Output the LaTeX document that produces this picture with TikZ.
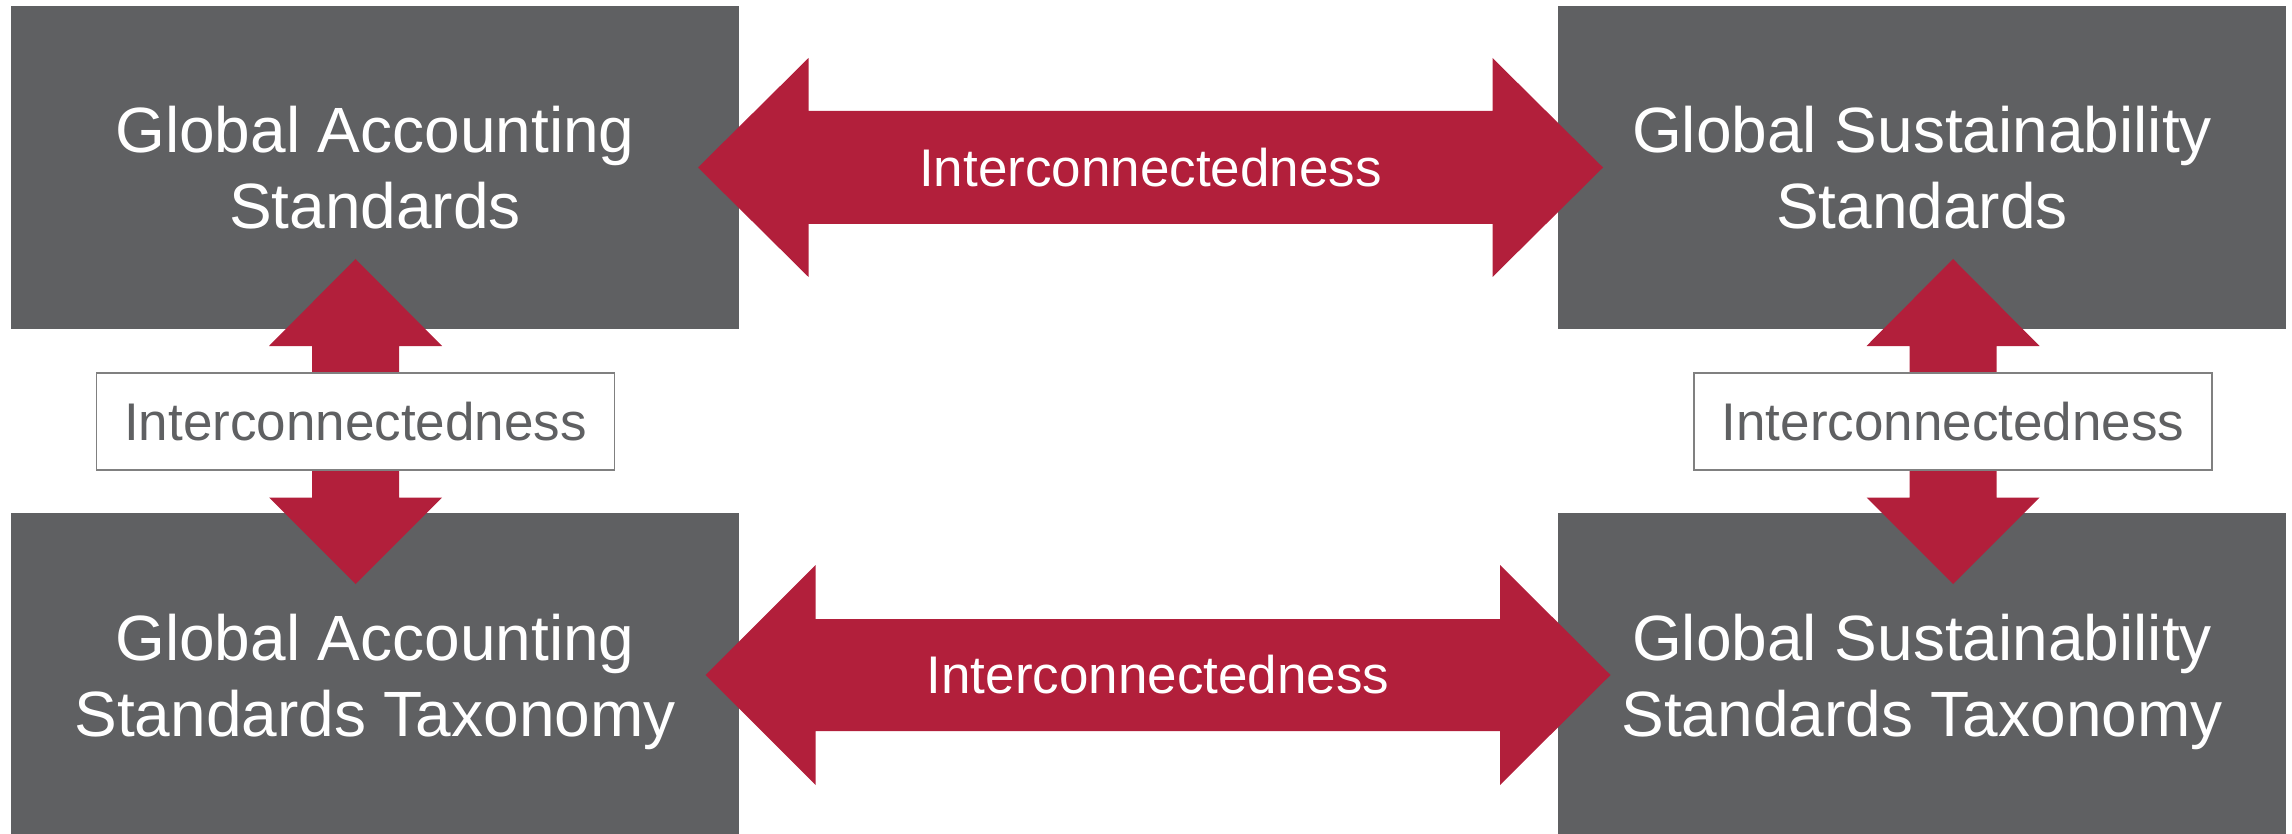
\documentclass[tikz,border=0pt]{standalone}
\usepackage{fontspec}
\setmainfont{Liberation Sans}
\definecolor{boxgray}{HTML}{5F6062}
\definecolor{arrowred}{HTML}{B21F3B}
\definecolor{labelgray}{HTML}{5F6062}
\definecolor{labelborder}{HTML}{808080}
\begin{document}
\begin{tikzpicture}[x=1pt,y=-1pt,
  stdbox/.style={fill=boxgray, draw=none, minimum width=728pt, minimum height=323pt, anchor=north west, inner sep=0pt, outer sep=0pt},
  boxtext/.style={text=white, font=\fontsize{64}{76}\selectfont, align=center, anchor=north, inner sep=0pt},
  redarrow/.style={fill=arrowred, draw=none},
  arrowtext/.style={text=white, font=\fontsize{53}{60}\selectfont, inner sep=0pt},
  labelbox/.style={draw=labelborder, line width=1.5pt, fill=white, text=labelgray, font=\fontsize{53}{60}\selectfont, minimum width=518pt, minimum height=97pt, inner sep=0pt}]
\useasboundingbox (0,0) rectangle (2292,834);
% boxes
\node[stdbox] (gas) at (11,6) {};
\node[stdbox] (gss) at (1558,6) {};
\node[stdbox, minimum height=321pt] (gast) at (11,513) {};
\node[stdbox, minimum height=321pt] (gsst) at (1558,513) {};
% box texts
\node[boxtext] (gastxt) at (375,106) {Global Accounting\\Standards};
\node[boxtext] (gsstxt) at (1922,106) {Global Sustainability\\Standards};
\node[boxtext] (gasttxt) at (375,614) {Global Accounting\\Standards Taxonomy};
\node[boxtext] (gssttxt) at (1922,614) {Global Sustainability\\Standards Taxonomy};
% horizontal double arrows
\fill[redarrow] (698,167.5) -- (808.5,58) -- (808.5,111) -- (1492.5,111) -- (1492.5,58) -- (1603,167.5) -- (1492.5,277) -- (1492.5,224) -- (808.5,224) -- (808.5,277) -- cycle;
\fill[redarrow] (705.5,675) -- (815.5,565) -- (815.5,619) -- (1500,619) -- (1500,565) -- (1610.5,675) -- (1500,785) -- (1500,731) -- (815.5,731) -- (815.5,785) -- cycle;
% vertical double arrows
\fill[redarrow] (355.5,259) -- (442,346) -- (399,346) -- (399,497.5) -- (442,497.5) -- (355.5,584) -- (269,497.5) -- (312,497.5) -- (312,346) -- (269,346) -- cycle;
\fill[redarrow] (1953,259) -- (2039.5,346) -- (1996.5,346) -- (1996.5,497.5) -- (2039.5,497.5) -- (1953,584) -- (1866.5,497.5) -- (1909.5,497.5) -- (1909.5,346) -- (1866.5,346) -- cycle;
% arrow texts
\node[arrowtext] (toptxt) at (1150.5,167.5) {Interconnectedness};
\node[arrowtext] (bottxt) at (1158,675) {Interconnectedness};
% label boxes
\node[labelbox] (lblL) at (355.5,421.5) {Interconnectedness};
\node[labelbox] (lblR) at (1953,421.5) {Interconnectedness};
\end{tikzpicture}
\end{document}
